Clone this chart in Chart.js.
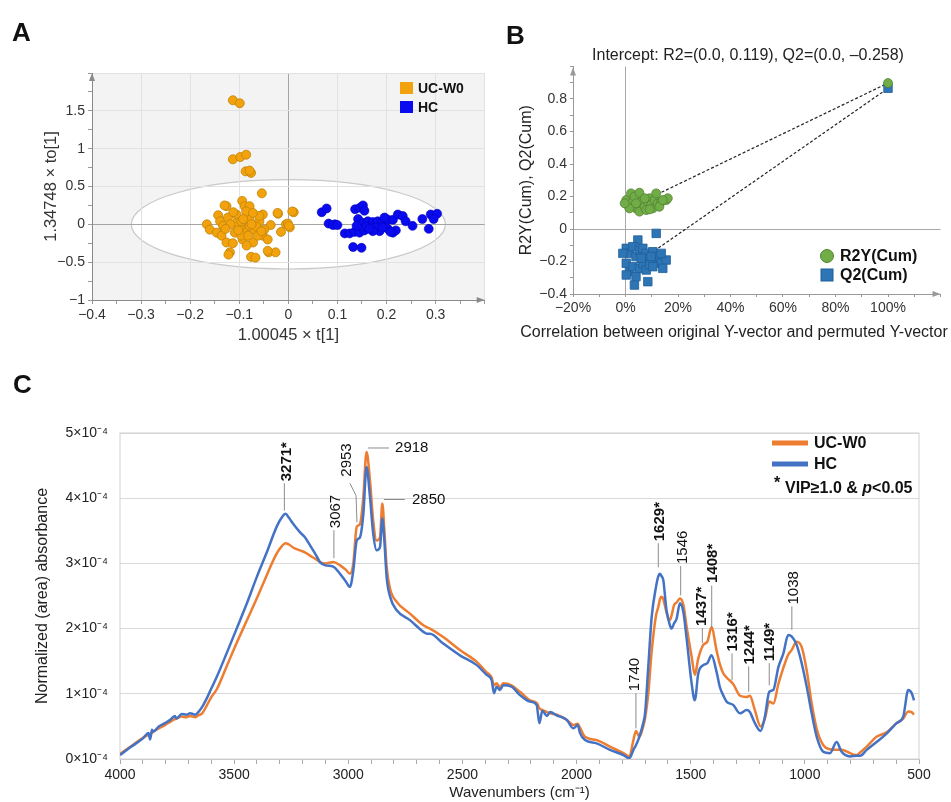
<!DOCTYPE html>
<html>
<head>
<meta charset="utf-8">
<title>OPLS-DA and FTIR spectra</title>
<script src="https://cdn.jsdelivr.net/npm/chart.js@4.4.1/dist/chart.umd.min.js"></script>
<style>
  body { margin: 0; background: #fff; font-family: 'Liberation Sans', Arial, sans-serif; }
  #page { position: relative; width: 951px; height: 802px; overflow: hidden; }
  canvas { position: absolute; }
  .letter { position: absolute; font-size: 26px; line-height: 26px; font-weight: bold; color: #111; }
</style>
</head>
<body>
<div id="page">
  <canvas id="scoreChart" width="490" height="350" style="left:0;top:0"></canvas>
  <canvas id="permChart" width="461" height="350" style="left:490px;top:0"></canvas>
  <canvas id="spectraChart" width="951" height="402" style="left:0;top:400px"></canvas>
  <div class="letter" style="left:12px;top:19px">A</div>
  <div class="letter" style="left:506px;top:22px">B</div>
  <div class="letter" style="left:13px;top:371px">C</div>
</div>
<script>
// ---------- Panel A: OPLS-DA scores ----------
const ucScoreT = [-0.113, -0.099, -0.113, -0.098, -0.086, -0.087, -0.076, -0.079, -0.054, -0.094,
  -0.126, -0.130, -0.089, -0.079, 0.011, -0.021, -0.143, -0.166, -0.160, -0.139,
  -0.123, -0.106, -0.052, -0.059, -0.036, -0.005, -0.001, 0.003, -0.015, -0.146,
  -0.136, -0.126, -0.113, -0.093, -0.072, -0.052, -0.042, -0.119, -0.122, -0.076,
  -0.067, -0.040, -0.026, -0.089, -0.079, -0.069, -0.099, -0.106, -0.096, -0.079,
  -0.059, -0.109, -0.096, -0.082, -0.062, -0.133, -0.049, -0.086, -0.072, -0.112,
  -0.118, -0.102, -0.065, -0.085, -0.055, -0.075, -0.092, -0.128, -0.022, 0.008,
  -0.042, 0.001];
const ucScoreTo = [1.64, 1.60, 0.86, 0.89, 0.92, 0.70, 0.68, 0.71, 0.41, 0.31,
  0.24, 0.25, 0.24, 0.24, 0.16, 0.14, 0.12, 0.00, -0.07, 0.04,
  0.09, 0.13, 0.13, 0.04, -0.01, 0.00, 0.01, -0.04, -0.10, -0.11,
  -0.15, -0.24, -0.25, -0.20, -0.24, -0.15, -0.20, -0.37, -0.40, -0.43,
  -0.44, -0.37, -0.37, -0.07, -0.02, -0.07, -0.04, 0.02, 0.04, 0.06,
  0.11, -0.11, -0.15, -0.15, -0.15, -0.02, -0.07, 0.17, 0.15, 0.16,
  0.00, -0.08, -0.03, -0.28, -0.09, 0.00, 0.07, -0.06, 0.15, 0.17,
  -0.35, -0.02];
const hcScoreT = [0.068, 0.078, 0.082, 0.095, 0.136, 0.146, 0.152, 0.155, 0.142, 0.152,
  0.162, 0.172, 0.182, 0.192, 0.203, 0.213, 0.223, 0.233, 0.239, 0.253,
  0.273, 0.290, 0.303, 0.296, 0.286, 0.115, 0.125, 0.135, 0.145, 0.155,
  0.159, 0.186, 0.203, 0.213, 0.219, 0.132, 0.149, 0.169, 0.179, 0.192,
  0.139, 0.172, 0.196, 0.091, 0.100, 0.165, 0.208];
const hcScoreTo = [0.16, 0.21, 0.01, 0.00, 0.20, 0.22, 0.25, 0.18, 0.07, 0.02,
  0.04, 0.03, 0.04, 0.04, 0.06, 0.06, 0.13, 0.11, 0.04, -0.02,
  0.07, 0.13, 0.14, 0.07, -0.06, -0.12, -0.12, -0.10, -0.11, -0.08,
  -0.03, -0.09, -0.06, -0.11, -0.08, -0.30, -0.31, -0.04, -0.04, -0.04,
  -0.02, -0.09, 0.09, -0.01, -0.01, -0.06, -0.10];
const ellipseT = 0.32;   // Hotelling T2 limits
const ellipseTo = 0.59;

// ---------- Panel B: permutation test ----------
const r2PermX = [0.003, 0.009, 0.021, 0.028, 0.040, 0.047, 0.053, 0.060, 0.066, 0.073,
  0.079, 0.085, 0.092, 0.098, 0.104, 0.111, 0.117, 0.123, 0.136, 0.155,
  0.161, 0.015, 0.034, 0.053, 0.092, 0.129, 0.142, -0.003, 0.040, 0.073, 1.0];
const r2PermY = [0.178, 0.148, 0.219, 0.168, 0.127, 0.199, 0.107, 0.158, 0.178, 0.137,
  0.117, 0.168, 0.189, 0.148, 0.127, 0.178, 0.219, 0.158, 0.168, 0.178,
  0.189, 0.127, 0.199, 0.223, 0.121, 0.137, 0.178, 0.158, 0.158, 0.189, 0.898];
const q2PermX = [0.117, 0.047, 0.003, 0.015, 0.028, 0.040, 0.053, 0.066, 0.079, 0.092,
  0.104, 0.111, 0.123, 0.136, 0.155, 0.003, 0.015, 0.028, 0.040, 0.053,
  0.066, 0.079, 0.092, 0.104, 0.003, 0.034, 0.085, 0.142, -0.010, 0.060,
  0.098, 0.136, 1.0];
const q2PermY = [-0.027, -0.068, -0.119, -0.150, -0.109, -0.170, -0.129, -0.119, -0.150, -0.180,
  -0.140, -0.201, -0.170, -0.211, -0.191, -0.211, -0.262, -0.232, -0.293, -0.242,
  -0.211, -0.252, -0.221, -0.232, -0.283, -0.345, -0.324, -0.242, -0.150, -0.180,
  -0.170, -0.150, 0.866];
const r2Intercept = 0.119;
const q2Intercept = -0.258;

// ---------- Panel C: FTIR spectra (absorbance in units of 1e-4) ----------
const wavenumbers = [4000, 3950, 3898, 3875, 3868, 3860, 3854, 3830, 3803, 3780,
  3760, 3752, 3730, 3710, 3693, 3670, 3657, 3640, 3620, 3600,
  3576, 3533, 3489, 3445, 3401, 3357, 3314, 3290, 3275, 3260,
  3240, 3212, 3190, 3168, 3140, 3124, 3100, 3066, 3036, 3010,
  2993, 2978, 2963, 2949, 2934, 2920, 2905, 2891, 2876, 2861,
  2851, 2842, 2832, 2817, 2788, 2730, 2671, 2655, 2642, 2584,
  2511, 2437, 2394, 2372, 2362, 2350, 2336, 2321, 2285, 2248,
  2204, 2175, 2163, 2150, 2130, 2116, 2087, 2043, 2014, 1995,
  1985, 1963, 1912, 1854, 1795, 1769, 1751, 1740, 1725, 1708,
  1700, 1686, 1671, 1652, 1642, 1635, 1627, 1620, 1606, 1591,
  1584, 1573, 1562, 1547, 1532, 1518, 1496, 1482, 1467, 1445,
  1427, 1409, 1387, 1372, 1358, 1343, 1314, 1284, 1255, 1241,
  1219, 1194, 1175, 1156, 1138, 1116, 1094, 1073, 1058, 1036,
  1014, 992, 970, 948, 919, 890, 861, 839, 802, 773,
  758, 729, 686, 642, 598, 569, 547, 532, 522];
const hcAbsorbance = [0.06, 0.19, 0.32, 0.40, 0.30, 0.45, 0.42, 0.50, 0.55, 0.60,
  0.66, 0.62, 0.69, 0.68, 0.70, 0.68, 0.72, 0.80, 0.93, 1.08,
  1.26, 1.62, 2.00, 2.38, 2.79, 3.17, 3.56, 3.71, 3.76, 3.70,
  3.60, 3.48, 3.40, 3.28, 3.12, 3.02, 2.97, 2.95, 2.84, 2.72,
  2.64, 2.89, 3.35, 3.40, 3.76, 4.48, 4.02, 3.46, 3.20, 3.25,
  3.69, 3.35, 2.79, 2.49, 2.28, 2.13, 1.95, 1.92, 1.92, 1.77,
  1.59, 1.44, 1.29, 1.21, 1.01, 1.11, 1.06, 1.13, 1.11, 0.98,
  0.88, 0.83, 0.55, 0.74, 0.66, 0.72, 0.67, 0.60, 0.47, 0.52,
  0.40, 0.29, 0.24, 0.14, 0.06, 0.01, 0.14, 0.21, 0.34, 0.55,
  0.70, 1.41, 2.18, 2.64, 2.80, 2.84, 2.80, 2.74, 2.28, 2.05,
  2.00, 2.08, 2.15, 2.39, 2.25, 1.85, 1.16, 0.90, 1.31, 1.44,
  1.47, 1.59, 1.34, 1.10, 0.98, 0.88, 0.83, 0.70, 0.75, 0.72,
  0.55, 0.43, 0.65, 1.03, 1.06, 1.41, 1.62, 1.90, 1.88, 1.75,
  1.47, 1.11, 0.70, 0.34, 0.11, 0.09, 0.26, 0.11, 0.04, 0.05,
  0.05, 0.14, 0.26, 0.39, 0.55, 0.65, 1.06, 1.01, 0.90];
const ucAbsorbance = [0.08, 0.20, 0.33, 0.37, 0.38, 0.40, 0.42, 0.47, 0.52, 0.57,
  0.61, 0.62, 0.65, 0.64, 0.66, 0.64, 0.67, 0.70, 0.82, 0.95,
  1.07, 1.42, 1.78, 2.12, 2.46, 2.82, 3.15, 3.27, 3.31, 3.29,
  3.24, 3.20, 3.17, 3.12, 3.06, 3.02, 3.00, 3.02, 2.97, 2.90,
  2.84, 3.00, 3.56, 3.60, 4.02, 4.71, 4.27, 3.66, 3.35, 3.40,
  3.92, 3.51, 2.95, 2.61, 2.41, 2.23, 2.05, 2.02, 2.00, 1.87,
  1.67, 1.49, 1.33, 1.25, 1.13, 1.16, 1.10, 1.16, 1.13, 1.03,
  0.90, 0.86, 0.78, 0.75, 0.72, 0.70, 0.68, 0.60, 0.52, 0.54,
  0.48, 0.34, 0.29, 0.19, 0.09, 0.04, 0.29, 0.43, 0.34, 0.50,
  0.62, 1.00, 1.65, 2.20, 2.33, 2.45, 2.49, 2.45, 2.25, 2.13,
  2.20, 2.36, 2.40, 2.46, 2.36, 2.03, 1.57, 1.29, 1.54, 1.75,
  1.80, 2.02, 1.67, 1.45, 1.32, 1.25, 1.15, 0.97, 0.95, 0.97,
  0.75, 0.50, 0.62, 0.88, 0.85, 1.15, 1.40, 1.60, 1.67, 1.80,
  1.72, 1.36, 0.85, 0.46, 0.21, 0.15, 0.14, 0.14, 0.09, 0.06,
  0.10, 0.19, 0.34, 0.41, 0.55, 0.62, 0.73, 0.72, 0.68];

// peak labels: text, bold, text position (wn, value at text start), leader polyline
const peakMarks = [
  { text: '3271*', bold: true, wn: 3267, base: 4.26, leader: [[3280, 4.23], [3280, 3.81]] },
  { text: '3067', bold: false, wn: 3054, base: 3.54, leader: [[3063, 3.51], [3063, 3.08]] },
  { text: '2953', bold: false, wn: 3008, base: 4.33, leader: [[2993, 4.23], [2966, 4.04], [2962, 3.63]] },
  { text: '2918', bold: false, wn: 2795, base: 4.77, flat: true, leader: [[2914, 4.77], [2822, 4.77]] },
  { text: '2850', bold: false, wn: 2721, base: 3.98, flat: true, leader: [[2844, 3.98], [2752, 3.98]] },
  { text: '1740', bold: false, wn: 1744, base: 1.04, leader: [[1740, 1.01], [1740, 0.47]] },
  { text: '1629*', bold: true, wn: 1637, base: 3.34, leader: [[1642, 3.31], [1642, 2.94]] },
  { text: '1546', bold: false, wn: 1536, base: 2.99, leader: [[1544, 2.96], [1544, 2.51]] },
  { text: '1437*', bold: true, wn: 1453, base: 2.04, leader: [[1449, 2.01], [1449, 1.78]] },
  { text: '1408*', bold: true, wn: 1405, base: 2.70, leader: [[1408, 2.66], [1408, 2.01]] },
  { text: '1316*', bold: true, wn: 1315, base: 1.65, leader: [[1319, 1.62], [1319, 1.21]] },
  { text: '1244*', bold: true, wn: 1240, base: 1.45, leader: [[1246, 1.42], [1246, 1.03]] },
  { text: '1149*', bold: true, wn: 1153, base: 1.50, leader: [[1156, 1.47], [1156, 1.13]] },
  { text: '1038', bold: false, wn: 1050, base: 2.37, leader: [[1057, 2.34], [1057, 1.98]] }
];

const FONT = "'Liberation Sans', Arial, sans-serif";
Chart.defaults.font.family = FONT;
Chart.defaults.font.size = 14;
Chart.defaults.color = '#333';
Chart.defaults.animation = false;
Chart.defaults.responsive = false;
Chart.defaults.plugins.legend.display = false;
Chart.defaults.plugins.tooltip.enabled = false;

const ucColor = '#f2a20c', hcColor = '#0b0bef';
const r2Color = '#70ad47', q2Color = '#2e75b6';
const ucLine = '#ed7d31', hcLine = '#4472c4';

const minus = s => String(s).replace('-', '\u2212');
const zip = (xs, ys) => xs.map((x, i) => ({ x: x, y: ys[i] }));

function arrowHead(ctx, x, y, dir, color) {
  ctx.save();
  ctx.fillStyle = color;
  ctx.beginPath();
  if (dir === 'up') {
    ctx.moveTo(x, y); ctx.lineTo(x - 3, y + 8); ctx.lineTo(x + 3, y + 8);
  } else {
    ctx.moveTo(x, y); ctx.lineTo(x - 8, y - 3); ctx.lineTo(x - 8, y + 3);
  }
  ctx.closePath();
  ctx.fill();
  ctx.restore();
}

// ---------- Chart A ----------
const scoreDecor = {
  id: 'scoreDecor',
  beforeDraw(chart) {
    const { ctx, chartArea: a, scales: { x, y } } = chart;
    ctx.save();
    ctx.fillStyle = '#f3f3f3';
    ctx.fillRect(a.left, a.top, a.right - a.left, a.bottom - a.top);
    const cx = x.getPixelForValue(0), cy = y.getPixelForValue(0);
    const rx = x.getPixelForValue(ellipseT) - cx;
    const ry = cy - y.getPixelForValue(ellipseTo);
    ctx.beginPath();
    ctx.ellipse(cx, cy, rx, ry, 0, 0, Math.PI * 2);
    ctx.fillStyle = '#fff';
    ctx.fill();
    ctx.strokeStyle = '#c9c9c9';
    ctx.lineWidth = 1.2;
    ctx.stroke();
    ctx.restore();
  },
  afterDraw(chart) {
    const { ctx, chartArea: a } = chart;
    arrowHead(ctx, a.left, a.top, 'up', '#8a8a8a');
    arrowHead(ctx, a.right, a.bottom, 'right', '#8a8a8a');
    // legend
    ctx.save();
    ctx.fillStyle = ucColor; ctx.fillRect(400, 82, 13, 12);
    ctx.fillStyle = hcColor; ctx.fillRect(400, 101, 13, 12);
    ctx.fillStyle = '#111';
    ctx.font = 'bold 14px ' + FONT;
    ctx.textBaseline = 'middle';
    ctx.fillText('UC-W0', 418, 89);
    ctx.fillText('HC', 418, 108);
    ctx.restore();
  }
};

new Chart(document.getElementById('scoreChart'), {
  type: 'scatter',
  data: {
    datasets: [
      { label: 'HC', data: zip(hcScoreT, hcScoreTo), backgroundColor: hcColor, borderColor: '#0000b8',
        borderWidth: 0.6, pointRadius: 4.5 },
      { label: 'UC-W0', data: zip(ucScoreT, ucScoreTo), backgroundColor: ucColor, borderColor: '#c08306',
        borderWidth: 0.8, pointRadius: 4.5 }
    ]
  },
  options: {
    layout: { padding: { top: 73, right: 0, left: 0, bottom: 0 } },
    scales: {
      x: {
        min: -0.4, max: 0.4,
        afterFit: s => { s.height = 50; },
        ticks: {
          stepSize: 0.05, autoSkip: false, maxRotation: 0, padding: 3, color: '#333',
          callback: v => (Math.round(v * 20) % 2 === 0 && v < 0.39) ? minus(+v.toFixed(1)) : ''
        },
        grid: {
          color: c => Math.abs(c.tick.value) < 1e-9 ? '#a5a5a5'
            : (Math.round(c.tick.value * 20) % 2 === 0 ? '#e2e2e2' : 'rgba(0,0,0,0)'),
          tickColor: '#9a9a9a', tickLength: 4
        },
        border: { color: '#8a8a8a' },
        title: { display: true, text: '1.00045 \u00d7 t[1]', font: { size: 16.5 }, color: '#333', padding: { top: 0, bottom: 5 } }
      },
      y: {
        min: -1, max: 2,
        afterFit: s => { s.width = 92; },
        ticks: {
          stepSize: 0.25, autoSkip: false, padding: 3, color: '#333',
          callback: v => (Math.round(v * 4) % 2 === 0 && v < 1.9) ? minus(v) : ''
        },
        grid: {
          color: c => Math.abs(c.tick.value) < 1e-9 ? '#a5a5a5'
            : (Math.round(c.tick.value * 4) % 2 === 0 ? '#e2e2e2' : 'rgba(0,0,0,0)'),
          tickColor: '#9a9a9a', tickLength: 4
        },
        border: { color: '#8a8a8a' },
        title: { display: true, text: '1.34748 \u00d7 to[1]', font: { size: 16.5 }, color: '#333', padding: { top: 42 } }
      }
    }
  },
  plugins: [scoreDecor]
});

// ---------- Chart B ----------
const permDecor = {
  id: 'permDecor',
  afterDraw(chart) {
    const { ctx, chartArea: a } = chart;
    arrowHead(ctx, a.left, a.top + 1, 'up', '#999');
    arrowHead(ctx, a.right, a.bottom, 'right', '#999');
    ctx.save();
    ctx.fillStyle = '#222';
    ctx.textAlign = 'center';
    ctx.textBaseline = 'middle';
    ctx.font = '16px ' + FONT;
    ctx.fillText('Intercept: R2=(0.0, 0.119), Q2=(0.0, \u20130.258)', 258, 56);
    ctx.fillText('Correlation between original Y-vector and permuted Y-vector', 244, 333);
    // legend
    ctx.fillStyle = r2Color; ctx.strokeStyle = '#548235'; ctx.lineWidth = 1;
    ctx.beginPath(); ctx.arc(337, 256, 6.5, 0, Math.PI * 2); ctx.fill(); ctx.stroke();
    ctx.fillStyle = q2Color; ctx.strokeStyle = '#1f5f99';
    ctx.fillRect(331, 269, 12, 12); ctx.strokeRect(331, 269, 12, 12);
    ctx.fillStyle = '#111';
    ctx.textAlign = 'left';
    ctx.font = 'bold 16px ' + FONT;
    ctx.fillText('R2Y(Cum)', 350, 257);
    ctx.fillText('Q2(Cum)', 350, 276);
    ctx.restore();
  }
};

const zeroOnly = c => Math.abs(c.tick.value) < 1e-9 ? '#a8a8a8' : 'rgba(0,0,0,0)';

new Chart(document.getElementById('permChart'), {
  type: 'scatter',
  data: {
    datasets: [
      { label: 'R2Y(Cum)', data: zip(r2PermX, r2PermY), backgroundColor: r2Color, borderColor: '#548235',
        borderWidth: 0.8, pointRadius: 4.5 },
      { label: 'Q2(Cum)', data: zip(q2PermX, q2PermY), backgroundColor: q2Color, borderColor: '#1f5f99',
        borderWidth: 0.8, pointRadius: 6, pointStyle: 'rect' },
      { label: 'R2 fit', data: [{ x: 0, y: r2Intercept }, { x: r2PermX[r2PermX.length - 1], y: r2PermY[r2PermY.length - 1] }],
        showLine: true, borderColor: '#222', borderWidth: 1.2, borderDash: [3, 2], pointRadius: 0 },
      { label: 'Q2 fit', data: [{ x: 0, y: q2Intercept }, { x: q2PermX[q2PermX.length - 1], y: q2PermY[q2PermY.length - 1] }],
        showLine: true, borderColor: '#222', borderWidth: 1.2, borderDash: [3, 2], pointRadius: 0 }
    ]
  },
  options: {
    layout: { padding: { top: 66.5, right: 10.5, left: 0, bottom: 0 } },
    scales: {
      x: {
        min: -0.2, max: 1.2,
        afterFit: s => { s.height = 56; },
        ticks: {
          stepSize: 0.1, autoSkip: false, maxRotation: 0, padding: 3, color: '#333',
          callback: v => { const p = Math.round(v * 100); return (p % 20 === 0 && p < 110) ? minus(p) + '%' : ''; }
        },
        grid: { color: zeroOnly, tickColor: '#999', tickLength: 3 },
        border: { color: '#999' }
      },
      y: {
        min: -0.4, max: 1.0,
        afterFit: s => { s.width = 83; },
        ticks: {
          stepSize: 0.1, autoSkip: false, padding: 3, color: '#333',
          callback: v => { const k = Math.round(v * 10); return (k % 2 === 0 && k < 10) ? (k === 0 ? '0' : minus((k / 10).toFixed(1))) : ''; }
        },
        grid: { color: zeroOnly, tickColor: '#999', tickLength: 3 },
        border: { color: '#999' },
        title: { display: true, text: 'R2Y(Cum), Q2(Cum)', font: { size: 16 }, color: '#222', padding: { top: 27 } }
      }
    }
  },
  plugins: [permDecor]
});

// ---------- Chart C ----------
const spectraDecor = {
  id: 'spectraDecor',
  beforeDatasetsDraw(chart) {
    const { ctx, chartArea: a } = chart;
    ctx.save();
    ctx.strokeStyle = '#d2d2d2';
    ctx.lineWidth = 1;
    ctx.strokeRect(a.left, a.top, a.right - a.left, a.bottom - a.top);
    ctx.restore();
  },
  afterDatasetsDraw(chart) {
    const { ctx, chartArea: a, scales: { x, y } } = chart;
    ctx.save();
    ctx.strokeStyle = '#8c8c8c';
    ctx.lineWidth = 1;
    ctx.fillStyle = '#111';
    peakMarks.forEach(m => {
      ctx.beginPath();
      m.leader.forEach((p, i) => {
        const px = x.getPixelForValue(p[0]), py = y.getPixelForValue(p[1]);
        if (i === 0) ctx.moveTo(px, py); else ctx.lineTo(px, py);
      });
      ctx.stroke();
      ctx.font = (m.bold ? 'bold ' : '') + '15px ' + FONT;
      ctx.textBaseline = 'middle';
      ctx.textAlign = 'left';
      const tx = x.getPixelForValue(m.wn), ty = y.getPixelForValue(m.base);
      if (m.flat) {
        ctx.fillText(m.text, tx, ty);
      } else {
        ctx.save();
        ctx.translate(tx, ty);
        ctx.rotate(-Math.PI / 2);
        ctx.fillText(m.text, 0, 0);
        ctx.restore();
      }
    });
    // legend
    const lx = a.right - 147;
    ctx.lineWidth = 5;
    ctx.strokeStyle = ucLine;
    ctx.beginPath(); ctx.moveTo(lx, a.top + 10); ctx.lineTo(lx + 36, a.top + 10); ctx.stroke();
    ctx.strokeStyle = hcLine;
    ctx.beginPath(); ctx.moveTo(lx, a.top + 31); ctx.lineTo(lx + 36, a.top + 31); ctx.stroke();
    ctx.font = 'bold 16px ' + FONT;
    ctx.fillText('UC-W0', lx + 42, a.top + 11);
    ctx.fillText('HC', lx + 42, a.top + 32);
    ctx.fillText('*', lx + 2, a.top + 51);
    let vx = lx + 13;
    const vy = a.top + 56;
    ctx.fillText('VIP\u22651.0 & ', vx, vy);
    vx += ctx.measureText('VIP\u22651.0 & ').width;
    ctx.font = 'italic bold 16px ' + FONT;
    ctx.fillText('p', vx, vy);
    vx += ctx.measureText('p').width;
    ctx.font = 'bold 16px ' + FONT;
    ctx.fillText('<0.05', vx, vy);
    ctx.restore();
  }
};

new Chart(document.getElementById('spectraChart'), {
  type: 'line',
  data: {
    datasets: [
      { label: 'HC', data: zip(wavenumbers, hcAbsorbance), borderColor: hcLine, borderWidth: 2.5,
        pointRadius: 0, cubicInterpolationMode: 'monotone', fill: false },
      { label: 'UC-W0', data: zip(wavenumbers, ucAbsorbance), borderColor: ucLine, borderWidth: 2.5,
        pointRadius: 0, cubicInterpolationMode: 'monotone', fill: false }
    ]
  },
  options: {
    layout: { padding: { top: 33, right: 32, left: 0, bottom: 0 } },
    scales: {
      x: {
        type: 'linear', reverse: true, min: 500, max: 4000,
        afterFit: s => { s.height = 43; },
        ticks: {
          stepSize: 100, autoSkip: false, maxRotation: 0, padding: 3, color: '#222',
          callback: v => (v % 500 === 0 ? String(v) : '')
        },
        grid: { drawOnChartArea: false, tickLength: 5, tickColor: '#aaa' },
        border: { color: '#c4c4c4' },
        title: { display: true, text: 'Wavenumbers (cm\u207b\u00b9)', font: { size: 15 }, color: '#222', padding: { top: 0, bottom: 0 } }
      },
      y: {
        min: 0, max: 5,
        afterFit: s => { s.width = 120; },
        ticks: { stepSize: 1, padding: 12, color: '#222', callback: v => v + '\u00d710\u207b\u2074' },
        grid: { color: '#d9d9d9', drawTicks: false },
        border: { display: false },
        title: { display: true, text: 'Normalized (area) absorbance', font: { size: 16 }, color: '#222', padding: { top: 33 } }
      }
    }
  },
  plugins: [spectraDecor]
});
</script>
</body>
</html>
